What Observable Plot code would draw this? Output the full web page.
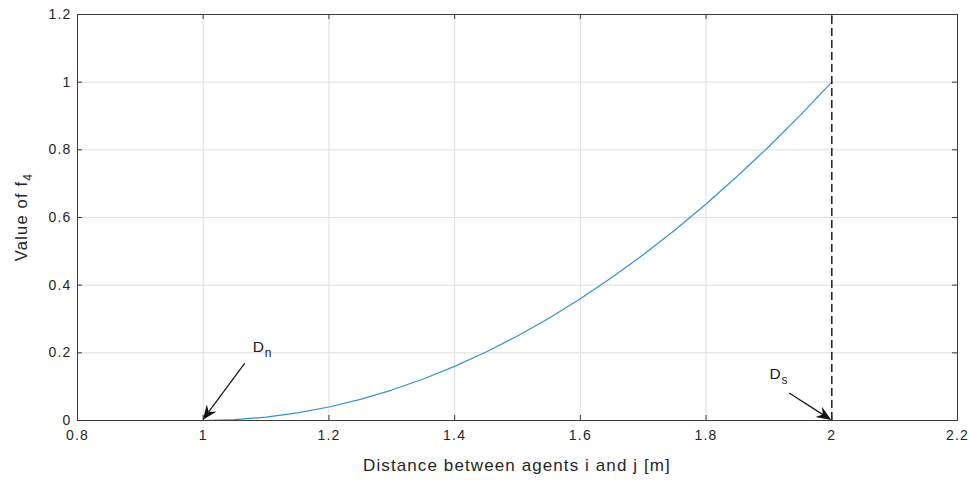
<!DOCTYPE html>
<html><head><meta charset="utf-8">
<script src="https://cdn.jsdelivr.net/npm/d3@7"></script>
<script src="https://cdn.jsdelivr.net/npm/@observablehq/plot@0.6"></script>
<style>body{margin:0;background:#fff}</style>
</head><body><div id="chart"></div>
<script>
// curve values
const distance = [1.00,1.05,1.10,1.15,1.20,1.25,1.30,1.35,1.40,1.45,1.50,1.55,1.60,1.65,1.70,1.75,1.80,1.85,1.90,1.95,2.00];
const f4 = [0,0.0025,0.01,0.0225,0.04,0.0625,0.09,0.1225,0.16,0.2025,0.25,0.3025,0.36,0.4225,0.49,0.5625,0.64,0.7225,0.81,0.9025,1.0];
const xTicks = [0.8,1,1.2,1.4,1.6,1.8,2,2.2];
const xTickLabels = ["0.8","1","1.2","1.4","1.6","1.8","2","2.2"];
const yTicks = [0,0.2,0.4,0.6,0.8,1,1.2];
const yTickLabels = ["0","0.2","0.4","0.6","0.8","1","1.2"];
const dsLine = [2];
// annotations
const annoMain = ["D","D"];
const annoSub = ["n","s"];
const annoX = [1.079,1.901];
const annoY = [0.216,0.137];
const arrowFromX = [1.067,1.933];
const arrowFromY = [0.168,0.08];
const arrowToX = [1.0,2.0];
const arrowToY = [0,0];
const xLabel = "Distance between agents i and j [m]";
const yLabelMain = "Value of f";
const yLabelSub = "4";

const font = "'Liberation Sans', Arial, Helvetica, sans-serif";
const textColor = "#262626";
const axisColor = "#3c3c3c";

const curve = distance.map((d,i)=>({x:d,y:f4[i]}));
const annos = annoMain.map((m,i)=>({m, s:annoSub[i], x:annoX[i], y:annoY[i]}));

function arrowMark(index, scales, values, dims) {
  const g = d3.create("svg:g");
  for (let i = 0; i < arrowFromX.length; i++) {
    const x1 = scales.x(arrowFromX[i]), y1 = scales.y(arrowFromY[i]);
    const x2 = scales.x(arrowToX[i]), y2 = scales.y(arrowToY[i]);
    const a = Math.atan2(y2 - y1, x2 - x1);
    const c = Math.cos(a), s = Math.sin(a);
    const L = 15, W = 6, notch = 10;
    const bx = x2 - c*L, by = y2 - s*L;
    const nx = x2 - c*notch, ny = y2 - s*notch;
    g.append("line").attr("x1", x1).attr("y1", y1).attr("x2", nx).attr("y2", ny)
      .attr("stroke", "#1a1a1a").attr("stroke-width", 1.3);
    g.append("path")
      .attr("d", `M${x2},${y2}L${bx - s*W},${by + c*W}L${nx},${ny}L${bx + s*W},${by - c*W}Z`)
      .attr("fill", "#111");
  }
  return g.node();
}

function labelMark(index, scales, values, dims) {
  const g = d3.create("svg:g")
    .attr("font-family", font).attr("fill", textColor);
  const t = g.append("text")
    .attr("transform", `translate(27,${217}) rotate(-90)`)
    .attr("text-anchor", "middle")
    .attr("font-size", 16.5).attr("letter-spacing", "1.2px");
  t.append("tspan").text(yLabelMain);
  t.append("tspan").attr("font-size", 12).attr("dy", 5).text(yLabelSub);
  const cx = (dims.marginLeft + dims.width - dims.marginRight) / 2;
  g.append("text")
    .attr("x", cx).attr("y", dims.height - 9)
    .attr("text-anchor", "middle")
    .attr("font-size", 17).attr("letter-spacing", "1.1px")
    .text(xLabel);
  return g.node();
}

const chart = Plot.plot({
  width: 970,
  height: 480,
  marginLeft: 77,
  marginRight: 13,
  marginTop: 14,
  marginBottom: 60,
  style: {fontFamily: font, fontSize: "14px", color: textColor, background: "#fff", letterSpacing: "1.2px"},
  x: {domain: [0.8, 2.2]},
  y: {domain: [0, 1.2]},
  marks: [
    Plot.gridX(xTicks, {stroke: "#dedede", strokeOpacity: 1}),
    Plot.gridY(yTicks, {stroke: "#dedede", strokeOpacity: 1}),
    // inward ticks (bottom, top, left, right)
    Plot.ruleX(xTicks, {stroke: axisColor, insetTop: 401}),
    Plot.ruleX(xTicks, {stroke: axisColor, insetBottom: 401}),
    Plot.ruleY(yTicks, {stroke: axisColor, insetRight: 875}),
    Plot.ruleY(yTicks, {stroke: axisColor, insetLeft: 875}),
    Plot.axisX(xTicks, {tickSize: 0, tickPadding: 10, tickFormat: (d,i)=>xTickLabels[i], fill: textColor, label: null, fontSize: 14}),
    Plot.axisY(yTicks, {tickSize: 0, tickPadding: 6, tickFormat: (d,i)=>yTickLabels[i], fill: textColor, label: null, fontSize: 14}),
    Plot.line(curve, {x: "x", y: "y", stroke: "#3592d5", strokeWidth: 1.2}),
    Plot.ruleX(dsLine, {y1: 0, y2: 1.2, stroke: "#222", strokeWidth: 1.5, strokeDasharray: "8,4"}),
    Plot.frame({stroke: axisColor, strokeWidth: 1}),
    arrowMark,
    Plot.text(annos, {x: "x", y: "y", text: "m", textAnchor: "start", fontSize: 15.5, fill: "#1a1a1a", style: {letterSpacing: "0px"}}),
    Plot.text(annos, {x: "x", y: "y", text: "s", textAnchor: "start", dx: 12, dy: 6, fontSize: 12, fill: "#1a1a1a"}),
    labelMark
  ]
});
document.getElementById("chart").appendChild(chart);
</script>
</body></html>
